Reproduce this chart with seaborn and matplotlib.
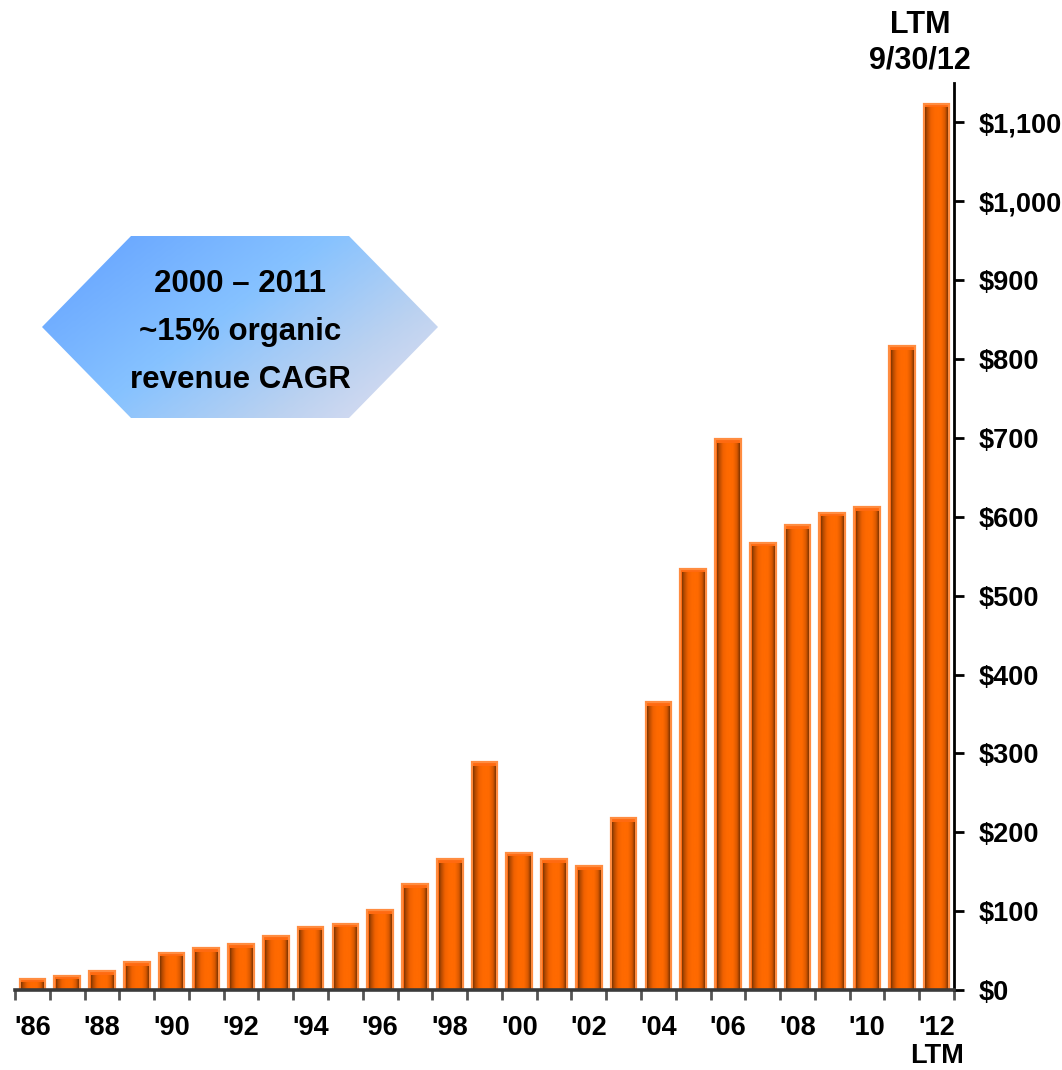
import numpy as np
import matplotlib
matplotlib.use("Agg")
import matplotlib.pyplot as plt
from matplotlib.colors import LinearSegmentedColormap
from matplotlib.patches import Polygon
import seaborn as sns

# Annual revenue ($ millions), fiscal '86 through LTM 9/30/12
years = ["'86", "'87", "'88", "'89", "'90", "'91", "'92", "'93", "'94", "'95",
         "'96", "'97", "'98", "'99", "'00", "'01", "'02", "'03", "'04", "'05",
         "'06", "'07", "'08", "'09", "'10", "'11", "'12"]
revenue = [14, 18, 24, 35, 47, 53, 58, 68, 80, 84,
           101, 134, 166, 289, 174, 166, 157, 218, 365, 534,
           698, 567, 589, 605, 612, 816, 1124]
tick_labels = ["'86", "'88", "'90", "'92", "'94", "'96", "'98", "'00",
               "'02", "'04", "'06", "'08", "'10", "'12\nLTM"]
y_ticks = list(range(0, 1101, 100))
y_tick_labels = ["$0", "$100", "$200", "$300", "$400", "$500", "$600",
                 "$700", "$800", "$900", "$1,000", "$1,100"]

sns.set_theme(style="white")
plt.rcParams["font.family"] = ["Liberation Sans", "DejaVu Sans"]
plt.rcParams["font.weight"] = "bold"
plt.rcParams["text.color"] = "black"
plt.rcParams["xtick.color"] = "black"
plt.rcParams["ytick.color"] = "black"

W, H = 1062, 1070
fig = plt.figure(figsize=(W / 100, H / 100), dpi=100)
ax = fig.add_axes([15 / W, 1 - 990 / H, (954 - 15) / W, (990 - 83) / H])

sns.barplot(x=years, y=revenue, ax=ax, color="#ff6a10", width=0.74,
            edgecolor="#ff8c40", linewidth=1.6, saturation=1, zorder=2)

# cylinder shading on every bar
cyl = LinearSegmentedColormap.from_list(
    "cyl", [(0.0, "#7a3300"), (0.08, "#b04800"), (0.26, "#f26200"),
            (0.45, "#ff6a00"), (0.7, "#ff6a00"), (0.88, "#d85800"),
            (1.0, "#7a3300")])
grad = np.linspace(0, 1, 128).reshape(1, -1)
for p in list(ax.patches):
    x0, w, h = p.get_x(), p.get_width(), p.get_height()
    ax.imshow(grad, cmap=cyl, extent=[x0 + 0.05, x0 + w - 0.05, 0, max(h - 5, 0)],
              aspect="auto", interpolation="bicubic", zorder=3)

ax.set_xlim(-0.5, len(years) - 0.5)
ax.set_ylim(0, 1150)

# axes styling
for s in ["top", "left"]:
    ax.spines[s].set_visible(False)
ax.spines["right"].set_color("black")
ax.spines["right"].set_linewidth(2)
ax.spines["bottom"].set_color("#3a3a3a")
ax.spines["bottom"].set_linewidth(2.6)
ax.spines["bottom"].set_zorder(5)

ax.yaxis.tick_right()
ax.set_yticks(y_ticks)
ax.set_yticklabels(y_tick_labels, fontsize=19.5, fontweight="bold")
ax.tick_params(axis="y", which="major", direction="out", length=7, width=2,
               color="black", pad=11, right=True, left=False)

ax.set_xticks(list(range(0, len(years), 2)))
ax.set_xticklabels(tick_labels, fontsize=19.5, fontweight="bold", linespacing=1.08)
ax.set_xticks(np.arange(-0.5, len(years), 1.0), minor=True)
ax.tick_params(axis="x", which="major", length=0, pad=18)
ax.tick_params(axis="x", which="minor", direction="out", length=7, width=2,
               color="#555555", bottom=True)
ax.set_xlabel("")
ax.set_ylabel("")
ax.grid(False)

fig.text(920 / W, 1 - 43 / H, "LTM\n9/30/12", ha="center", va="center",
         fontsize=22, fontweight="bold", linespacing=1.25)

# hexagon call-out with diagonal blue gradient
ov = fig.add_axes([0, 0, 1, 1], facecolor="none")
ov.set_xlim(0, W)
ov.set_ylim(H, 0)
ov.axis("off")
hx = [(42, 327), (131, 236), (349, 236), (438, 327), (349, 418), (131, 418)]
hexa = Polygon(hx, closed=True, facecolor="none", edgecolor="none")
ov.add_patch(hexa)
gx, gy = np.meshgrid(np.linspace(0, 1, 200), np.linspace(0, 1, 100))
t = np.clip(0.62 * gx + 0.38 * gy, 0, 1)
blue = LinearSegmentedColormap.from_list(
    "callout", [(0.0, "#62a0ff"), (0.45, "#86c2ff"), (0.75, "#bcd2f0"),
                (1.0, "#e4e0f2")])
img = ov.imshow(t, cmap=blue, extent=[42, 438, 418, 236], aspect="auto",
                interpolation="bilinear", zorder=1)
img.set_clip_path(hexa)
ov.set_xlim(0, W)
ov.set_ylim(H, 0)
ov.text(240, 332, "2000 – 2011\n~15% organic\nrevenue CAGR", ha="center",
        va="center", fontsize=22.5, fontweight="bold", linespacing=1.8, zorder=2)

fig.savefig("out.png", dpi=100)
